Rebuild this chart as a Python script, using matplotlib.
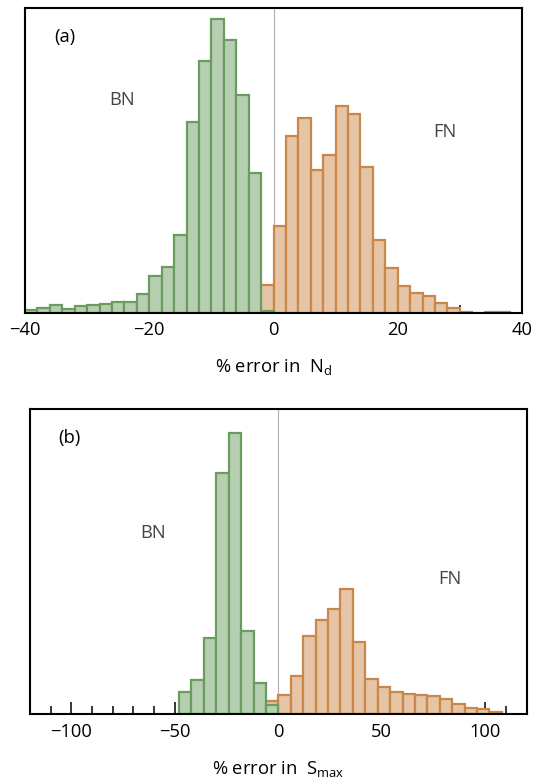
import matplotlib
matplotlib.use("Agg")
import matplotlib.pyplot as plt
import numpy as np
from matplotlib.ticker import MultipleLocator

plt.rcParams['font.family'] = ['Open Sans', 'DejaVu Sans']
plt.rcParams['mathtext.fontset'] = 'custom'
plt.rcParams['mathtext.rm'] = 'Open Sans'
plt.rcParams['mathtext.it'] = 'Open Sans'

# panel (a): % error in N_d, bins 2 wide
a_bn_left = np.arange(-40, 0, 2)
a_bn = [2.6, 5, 8.3, 4, 6.6, 7.6, 9, 11.3, 11.3, 18.6,
        37.3, 45.6, 78, 191, 251.6, 294.3, 272.6, 217.6, 140, 1.6]
a_fn_left = np.arange(-2, 38, 2)
a_fn = [28.3, 86.7, 177.3, 194.7, 143.3, 157.7, 206.7, 198.7, 145.7, 72.7,
        44.7, 27.3, 20.3, 17.3, 10, 5, 1, 0, 0.5, 0.5]

# panel (b): % error in S_max, bins 6 wide
b_bn_left = np.arange(-48, 0, 6)
b_bn = [22.7, 34.3, 76, 241.7, 281, 83.7, 31, 9.3]
b_fn_left = np.arange(-6, 108, 6)
b_fn = [13, 19, 38.3, 78, 94, 105.7, 125.7, 72.3, 35.7, 27.3,
        22.3, 20.7, 19, 18, 15.7, 10.7, 6.3, 5, 2.3]

green_fc, green_ec = '#b6cfb0', '#6b9c5f'
orange_fc, orange_ec = '#e6c4a6', '#c98849'
fs = 13.2

fig = plt.figure(figsize=(5.34, 7.82), dpi=100)
ax1 = fig.add_axes([25/534, 1-313/782, 497/534, 305/782])
ax2 = fig.add_axes([30/534, 1-714.3/782, 496.7/534, 305/782])


def panel(ax, bn_left, bn, fn_left, fn, w, xlim, major, minor, xlabel, tag, bn_xy, fn_xy):
    ax.axvline(0, color='#b0b0b0', lw=0.8, zorder=0)
    ax.bar(fn_left, fn, width=w, align='edge', color=orange_fc,
           edgecolor=orange_ec, linewidth=1.6, zorder=2)
    ax.bar(bn_left, bn, width=w, align='edge', color=green_fc,
           edgecolor=green_ec, linewidth=1.6, zorder=3)
    ax.set_xlim(*xlim)
    ax.set_ylim(0, 305)
    ax.set_yticks([])
    ax.xaxis.set_major_locator(MultipleLocator(major))
    ax.xaxis.set_minor_locator(MultipleLocator(minor))
    ax.tick_params(axis='x', which='major', direction='in', length=8.5, width=1.1,
                   labelsize=fs, pad=6, top=False)
    ax.tick_params(axis='x', which='minor', direction='in', length=6, width=1.1, top=False)
    for s in ax.spines.values():
        s.set_linewidth(1.5)
        s.set_zorder(5)
    ax.set_xlabel(xlabel, fontsize=fs, labelpad=13)
    ax.text(0.08, 0.905, tag, transform=ax.transAxes, fontsize=fs, ha='center', va='center')
    ax.text(bn_xy[0], bn_xy[1], 'BN', transform=ax.transAxes, fontsize=fs,
            color='#444444', ha='center', va='center')
    ax.text(fn_xy[0], fn_xy[1], 'FN', transform=ax.transAxes, fontsize=fs,
            color='#444444', ha='center', va='center')


panel(ax1, a_bn_left, a_bn, a_fn_left, a_fn, 2, (-40, 40), 20, 10,
      '% error in  N$_\\mathrm{d}$', '(a)', (0.196, 0.697), (0.845, 0.595))
panel(ax2, b_bn_left, b_bn, b_fn_left, b_fn, 6, (-120, 120), 50, 10,
      '% error in  S$_\\mathrm{max}$', '(b)', (0.247, 0.595), (0.845, 0.445))

fig.savefig('out.png', dpi=100)
